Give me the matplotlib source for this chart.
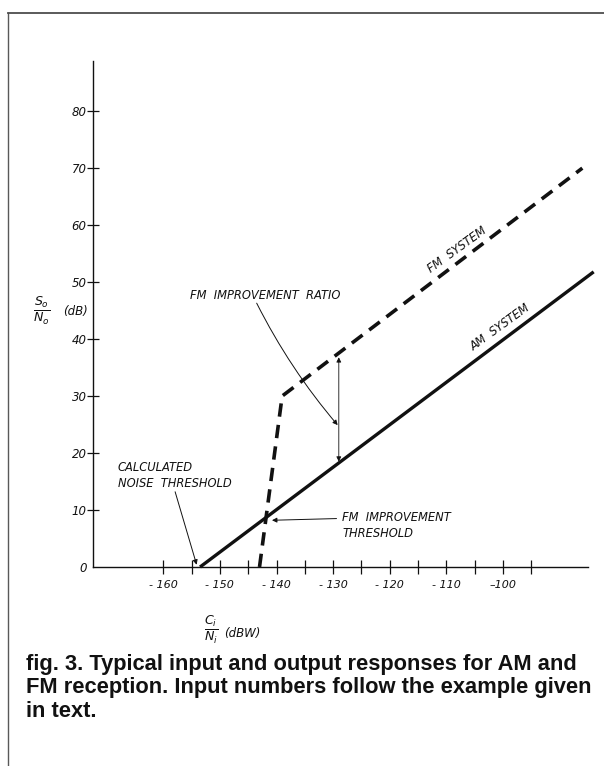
import matplotlib.pyplot as plt
from matplotlib.lines import Line2D

# values (dB)
am_x = [-153.5, -84]
am_y = [0, 51.8]
fm_x = [-143, -139, -86]
fm_y = [0, 30, 70]

x_major = [-160, -150, -140, -130, -120, -110, -100]
x_labels = ['- 160', '- 150', '- 140', '- 130', '- 120', '- 110', '\u2013100']
x_minor = [-155, -145, -135, -125, -115, -105, -95]
y_ticks = [0, 10, 20, 30, 40, 50, 60, 70, 80]

# annotation anchors
ratio_x = -129
ratio_fm = 36.8
ratio_am = 18.5
threshold = (-140.8, 8.2)
noise_thr = (-154.1, 0.4)

caption = ["fig. 3. Typical input and output responses for AM and",
           "FM reception. Input numbers follow the example given",
           "in text."]

W, H = 604, 766
ink = '#111111'
ital = dict(family='DejaVu Sans', style='italic', color=ink)

fig = plt.figure(figsize=(W / 100, H / 100), dpi=100)
ax = fig.add_axes([93 / W, 1 - 567 / H, 495 / W, 506 / H])
ax.set_xlim(-172.4, -85)
ax.set_ylim(0, 88.8)

for s in ['top', 'right']:
    ax.spines[s].set_visible(False)
for s in ['left', 'bottom']:
    ax.spines[s].set_linewidth(1.0)
    ax.spines[s].set_color(ink)

# curves
ax.plot(am_x, am_y, color=ink, lw=2.4, solid_capstyle='butt', clip_on=False)
ax.plot(fm_x, fm_y, color=ink, lw=2.6, dashes=(3.7, 2.3),
        dash_capstyle='butt', clip_on=False)

# ticks
ax.set_xticks(x_major, x_labels)
ax.set_xticks(x_minor, minor=True)
ax.set_yticks(y_ticks, [str(v) for v in y_ticks])
ax.tick_params(axis='x', which='both', direction='inout', length=10,
               width=0.9, color=ink, pad=4, labelsize=8)
ax.tick_params(axis='y', direction='inout', length=8, width=0.9,
               color=ink, pad=0.5, labelsize=8.5)
ax.yaxis.get_major_ticks()[0].tick1line.set_visible(False)
for lab in ax.get_xticklabels() + ax.get_yticklabels():
    lab.set_fontstyle('italic')
    lab.set_color(ink)

# annotations
note = dict(fontsize=8.3, **ital)
ax.text(-155.3, 47.7, 'FM  IMPROVEMENT  RATIO', ha='left', va='center', **note)
ax.annotate('', xy=(-129.2, 24.9), xytext=(-143.5, 46.3),
            arrowprops=dict(arrowstyle='-|>', lw=0.7, color=ink,
                            mutation_scale=7, shrinkA=0, shrinkB=0,
                            connectionstyle='arc3,rad=0.06'))
ax.annotate('', xy=(ratio_x, ratio_am), xytext=(ratio_x, ratio_fm),
            arrowprops=dict(arrowstyle='<|-|>', lw=0.6, color=ink,
                            mutation_scale=7, shrinkA=0, shrinkB=0))

ax.text(-168, 17.4, 'CALCULATED', ha='left', va='center', **note)
ax.text(-168, 14.6, 'NOISE  THRESHOLD', ha='left', va='center', **note)
ax.annotate('', xy=noise_thr, xytext=(-157.9, 13.2),
            arrowprops=dict(arrowstyle='-|>', lw=0.7, color=ink,
                            mutation_scale=7, shrinkA=0, shrinkB=0))

ax.text(-128.4, 8.6, 'FM  IMPROVEMENT', ha='left', va='center', **note)
ax.text(-128.4, 5.8, 'THRESHOLD', ha='left', va='center', **note)
ax.annotate('', xy=threshold, xytext=(-129.4, 8.5),
            arrowprops=dict(arrowstyle='-|>', lw=0.7, color=ink,
                            mutation_scale=7, shrinkA=0, shrinkB=0))

ax.text(-108.1, 55.6, 'FM  SYSTEM', rotation=36, ha='center', va='center',
        rotation_mode='anchor', **note)
ax.text(-100.5, 42.1, 'AM  SYSTEM', rotation=36, ha='center', va='center',
        rotation_mode='anchor', **note)

# axis labels
fig.text(42 / W, 1 - 311 / H, r'$\frac{S_o}{N_o}$', fontsize=13,
         ha='center', va='center', color=ink)
fig.text(63 / W, 1 - 311 / H, '(dB)', ha='left', va='center', fontsize=8.5, **ital)
fig.text(211 / W, 1 - 630 / H, r'$\frac{C_i}{N_i}$', fontsize=13,
         ha='center', va='center', color=ink)
fig.text(224 / W, 1 - 633 / H, '(dBW)', ha='left', va='center', fontsize=8.5, **ital)

# scanned page edges
fig.add_artist(Line2D([8 / W, 8 / W], [0, 1 - 13 / H], lw=1.0, color='0.35',
                      transform=fig.transFigure))
fig.add_artist(Line2D([8 / W, 1], [1 - 13 / H, 1 - 13 / H], lw=1.3, color='0.3',
                      transform=fig.transFigure))

# caption, fitted to the column width
cap_texts = []
for i, line in enumerate(caption):
    t = fig.text(26 / W, 1 - (670 + 23.5 * i) / H, line, ha='left', va='baseline',
                 family='Liberation Sans', weight='bold', fontsize=11, color=ink)
    cap_texts.append(t)
r = fig.canvas.get_renderer()
w = cap_texts[1].get_window_extent(r).width
for t in cap_texts:
    t.set_fontsize(11 * 566 / w)

fig.savefig('out.png', dpi=100)
